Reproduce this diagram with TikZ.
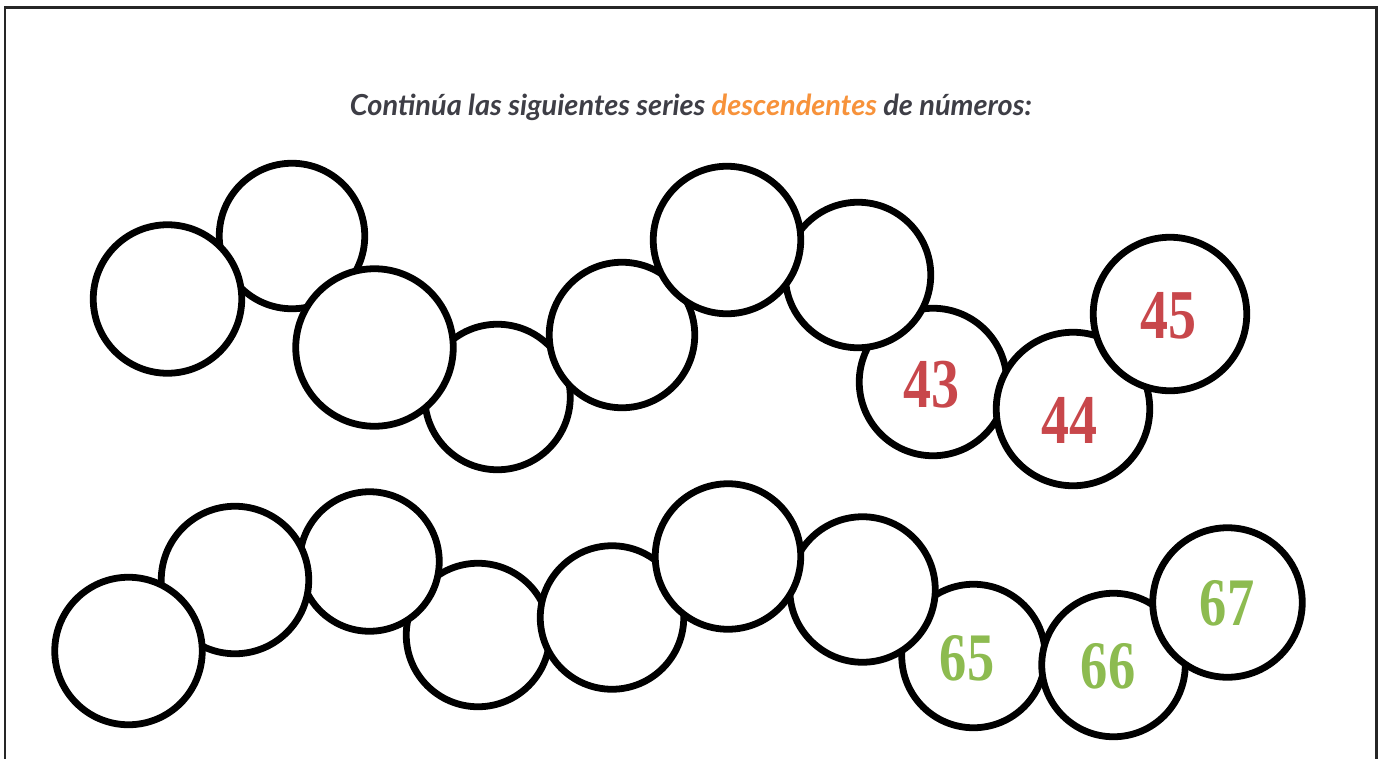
\documentclass[tikz,border=0pt]{standalone}
\usepackage{fontspec}
\setmainfont{Liberation Serif}
\newfontfamily\titlefont{Lato}
\definecolor{titlegray}{HTML}{3E3E46}
\definecolor{titleorange}{HTML}{F7923A}
\definecolor{numred}{HTML}{C8474B}
\definecolor{numgreen}{HTML}{8DBB50}
\newcommand{\numtxt}[1]{\scalebox{0.8}[1]{#1}}
\tikzset{
  ball/.style={circle, draw=black, line width=6.8pt, fill=white, inner sep=0pt, minimum size=#1},
  redlbl/.style={text=numred, font=\fontsize{70}{70}\selectfont\bfseries, anchor=base, inner sep=0pt},
  greenlbl/.style={text=numgreen, font=\fontsize{68}{68}\selectfont\bfseries, anchor=base, inner sep=0pt},
  frame/.style={line width=2.8pt, draw=black!85}
}
\begin{document}
\begin{tikzpicture}[x=1pt,y=-1pt]
\useasboundingbox (0,0) rectangle (1382,758);
\clip (0,0) rectangle (1382,758);
\fill[white] (0,0) rectangle (1382,758);
\coordinate (fbl) at (5,775);
\coordinate (fbr) at (1376.5,775);
\draw[frame] (fbl) -- (5,7.5) -- (1376.5,7.5) -- (fbr);

\node[anchor=base, inner sep=0pt] (title) at (691,115)
  {\resizebox{682pt}{!}{\titlefont\bfseries\itshape\color{titlegray}Continúa las siguientes series \textcolor{titleorange}{descendentes} de números:}};

% top row (drawing order gives the overlaps)
\node[ball=145.5pt] (t2) at (292,236) {};
\node[ball=145.5pt] (t4) at (497.5,397) {};
\node[ball=148.5pt] (t1) at (167.5,299) {};
\node[ball=157.5pt] (t3) at (374.5,347.5) {};
\node[ball=145.5pt] (t5) at (622,335) {};
\node[ball=147.5pt] (t8) at (933,382) {};
\node[ball=145.5pt] (t7) at (858,275) {};
\node[ball=147.5pt] (t6) at (727,240) {};
\node[ball=153.5pt] (t9) at (1073,409) {};
\node[ball=153.5pt] (t10) at (1170,314) {};
\node[redlbl] (n43) at (931,407) {\numtxt{43}};
\node[redlbl] (n44) at (1069,443) {\numtxt{44}};
\node[redlbl] (n45) at (1168,338) {\numtxt{45}};

% bottom row
\node[ball=143.5pt] (b4) at (478,635) {};
\node[ball=139.5pt] (b3) at (369.5,561.5) {};
\node[ball=147.5pt] (b2) at (235,580) {};
\node[ball=147.5pt] (b1) at (128.5,651) {};
\node[ball=143.5pt] (b5) at (612,617.5) {};
\node[ball=143.5pt] (b8) at (973.5,656) {};
\node[ball=145.5pt] (b7) at (862.5,589.5) {};
\node[ball=145.5pt] (b6) at (728,556.5) {};
\node[ball=143.5pt] (b9) at (1113.5,665) {};
\node[ball=149.5pt] (b10) at (1227.5,602.5) {};
\node[greenlbl] (n65) at (967,680) {\numtxt{65}};
\node[greenlbl] (n66) at (1108,688) {\numtxt{66}};
\node[greenlbl] (n67) at (1227,625) {\numtxt{67}};
\end{tikzpicture}
\end{document}
